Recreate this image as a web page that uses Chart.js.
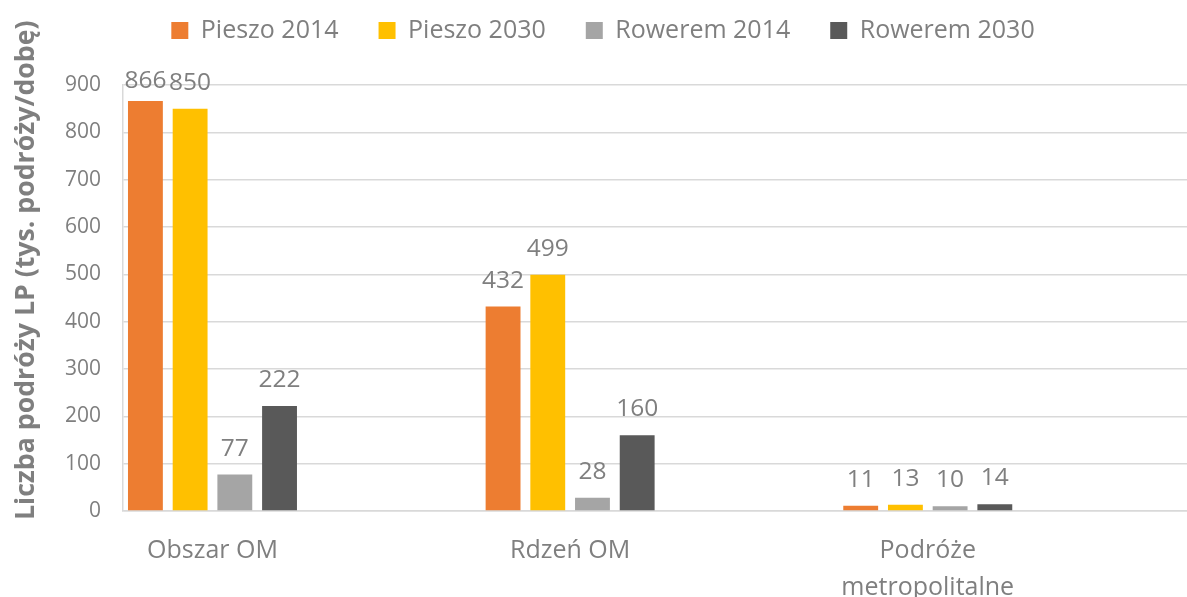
<!DOCTYPE html>
<html>
<head>
<meta charset="utf-8">
<script src="https://cdn.jsdelivr.net/npm/chart.js@4.4.1/dist/chart.umd.min.js"></script>
<style>
  html, body { margin: 0; padding: 0; background: #fff; overflow: hidden; }
  #wrap { width: 1200px; height: 597px; position: relative; }
</style>
</head>
<body>
<div id="wrap"><canvas id="chart"></canvas></div>
<script>
const categories = ['Obszar OM', 'Rdzeń OM', ['Podróże', 'metropolitalne']];
const seriesNames = ['Pieszo 2014', 'Pieszo 2030', 'Rowerem 2014', 'Rowerem 2030'];
const pieszo2014 = [866, 432, 11];
const pieszo2030 = [850, 499, 13];
const rowerem2014 = [77, 28, 10];
const rowerem2030 = [222, 160, 14];
const seriesColors = ['#ED7D31', '#FFC000', '#A5A5A5', '#595959'];

const textGray = '#7f7f7f';
const font = '"Open Sans", sans-serif';

// the source chart has an empty category after each real one
const labels = categories.flatMap(c => [c, '']);
const spread = arr => arr.flatMap(v => [v, null]);

const valueLabels = {
  id: 'valueLabels',
  afterDatasetsDraw(chart) {
    const ctx = chart.ctx;
    ctx.save();
    ctx.font = '24.5px ' + font;
    ctx.fillStyle = textGray;
    ctx.textAlign = 'center';
    ctx.textBaseline = 'alphabetic';
    chart.data.datasets.forEach((ds, i) => {
      chart.getDatasetMeta(i).data.forEach((bar, j) => {
        const v = ds.data[j];
        if (v == null) return;
        const y = Math.max(bar.y - 19, chart.chartArea.top + 3);
        ctx.fillText(v, bar.x, y);
      });
    });
    ctx.restore();
  }
};

const data = {
  labels: labels,
  datasets: [pieszo2014, pieszo2030, rowerem2014, rowerem2030].map((vals, i) => ({
    label: seriesNames[i],
    data: spread(vals),
    backgroundColor: seriesColors[i],
    categoryPercentage: 1.0,
    barPercentage: 0.78
  }))
};

new Chart(document.getElementById('chart'), {
  type: 'bar',
  data: data,
  plugins: [valueLabels],
  options: {
    responsive: true,
    maintainAspectRatio: false,
    animation: false,
    layout: { padding: { top: -22, right: 4, bottom: -22, left: 10 } },
    plugins: {
      legend: {
        position: 'top',
        weight: 1000,
        labels: {
          boxWidth: 17,
          boxHeight: 17,
          padding: 40,
          color: textGray,
          font: { family: font, size: 25 }
        }
      },
      // blank spacer between legend and plot
      title: {
        display: true,
        text: ' ',
        position: 'top',
        weight: 500,
        padding: { top: 0, bottom: 20 },
        font: { size: 10 }
      },
      tooltip: { enabled: false }
    },
    scales: {
      x: {
        grid: { display: false },
        border: { color: '#d9d9d9', width: 1.5 },
        ticks: {
          color: textGray,
          padding: 13,
          maxRotation: 0,
          autoSkip: false,
          font: { family: font, size: 25, lineHeight: 1.48 }
        }
      },
      y: {
        min: 0,
        max: 900,
        ticks: {
          stepSize: 100,
          color: textGray,
          padding: 22,
          font: { family: font, size: 21 }
        },
        grid: { color: '#d9d9d9', lineWidth: 1.5, drawTicks: false },
        border: { color: '#d9d9d9', width: 1.5 },
        title: {
          display: true,
          // leading spaces lift the centred title like in the source
          text: '        Liczba podróży LP (tys. podróży/dobę)',
          color: textGray,
          padding: { top: 0, bottom: 1 },
          font: { family: font, size: 26.7, weight: 'bold' }
        }
      }
    }
  }
});
</script>
</body>
</html>
